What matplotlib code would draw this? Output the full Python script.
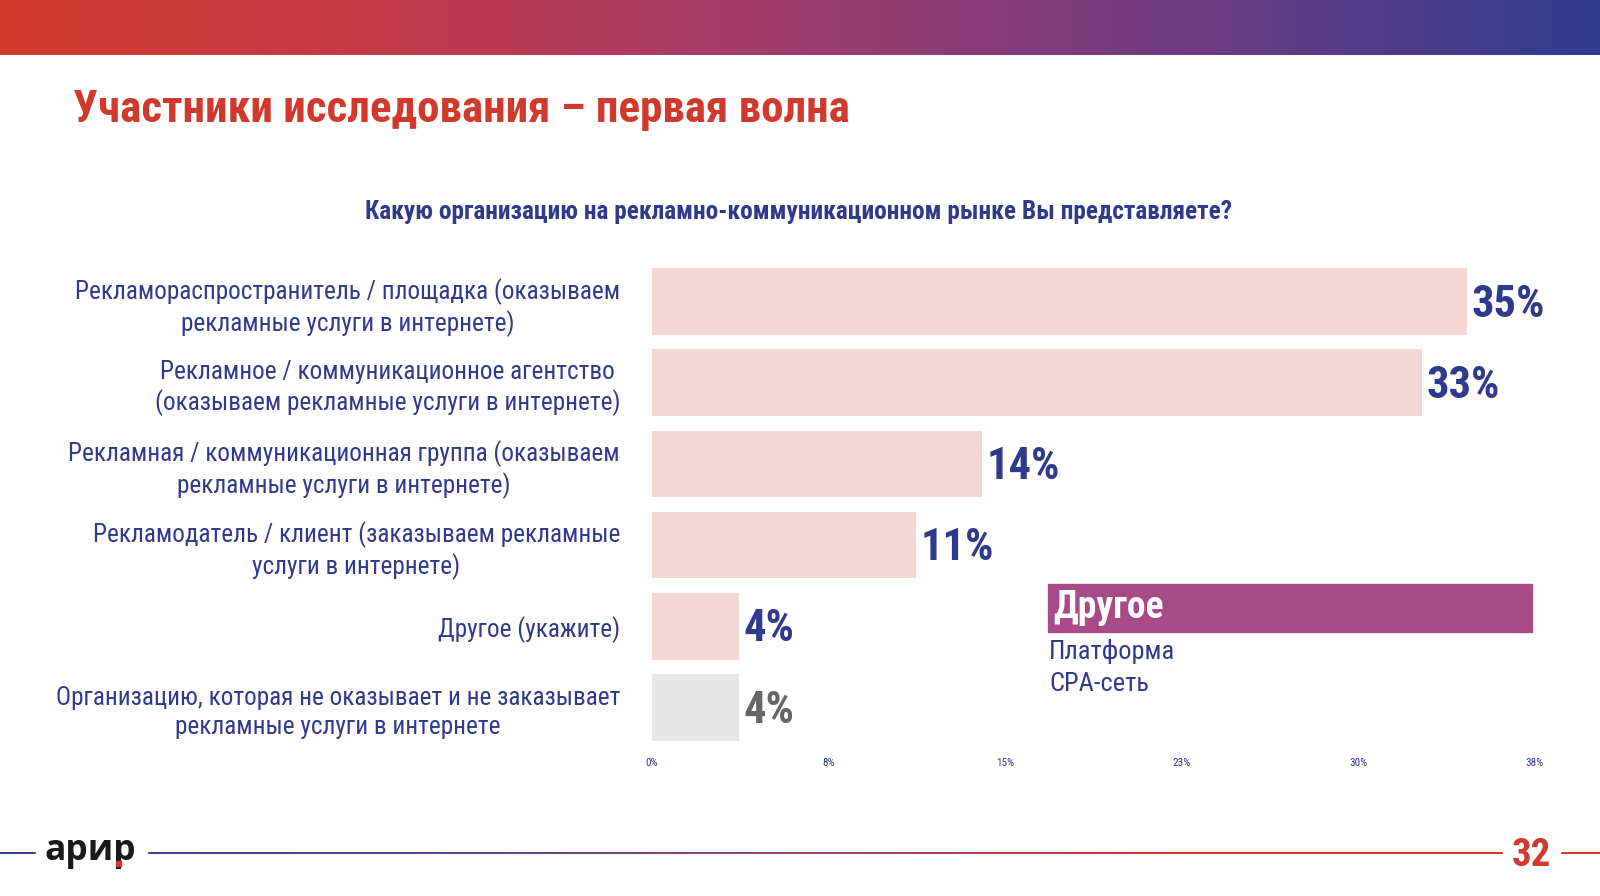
import numpy as np
import matplotlib
matplotlib.use("Agg")
import matplotlib.pyplot as plt
from matplotlib import font_manager as fm
from matplotlib.colors import LinearSegmentedColormap

# выбор узкого шрифта с кириллицей (нужны обычное и жирное начертания)
weights = {}
for f in fm.fontManager.ttflist:
    weights.setdefault(f.name, set()).add(f.weight)
cands = ['Roboto Condensed', 'Fira Sans Condensed', 'PT Sans Narrow', 'Open Sans Condensed']
COND = next((c for c in cands if {400, 700} <= weights.get(c, set())), 'PT Sans Narrow')
plt.rcParams['font.family'] = [COND, 'DejaVu Sans']

# данные
categories = [
    "Рекламораспространитель / площадка (оказываем\nрекламные услуги в интернете)",
    "Рекламное / коммуникационное агентство\n(оказываем рекламные услуги в интернете)",
    "Рекламная / коммуникационная группа (оказываем\nрекламные услуги в интернете)",
    "Рекламодатель / клиент (заказываем рекламные\nуслуги в интернете)",
    "Другое (укажите)",
    "Организацию, которая не оказывает и не заказывает\nрекламные услуги в интернете",
]
values = [34.6, 32.7, 14.0, 11.2, 3.7, 3.7]
value_labels = ["35%", "33%", "14%", "11%", "4%", "4%"]
tick_values = [0, 7.5, 15, 22.5, 30, 37.5]
tick_labels = ["0%", "8%", "15%", "23%", "30%", "38%"]
other_items = ["Платформа", "CPA-сеть"]

BLUE = '#2E3A8C'
RED = '#D0392C'
PINK = '#F4D6D5'
GREY = '#E6E6E6'
PURPLE = '#A84A88'

W, H = 1600, 896
fig = plt.figure(figsize=(16, 8.96), dpi=100)

# верхняя градиентная полоса
top = fig.add_axes([0, 1 - 55 / H, 1, 55 / H])
grad = LinearSegmentedColormap.from_list('g', ['#D03B2C', '#C23A4A', '#9E3C6E', '#6E3C82', '#2F3C90'])
top.imshow(np.linspace(0, 1, 512)[None, :], aspect='auto', cmap=grad)
top.axis('off')

# нижняя градиентная линия
bot = fig.add_axes([0, 1 - 854.5 / H, 1, 2.5 / H])
lgrad = LinearSegmentedColormap.from_list('l', ['#3A3F96', '#5A4396', '#9A4270', '#D0392C', '#D0392C'])
bot.imshow(np.linspace(0, 1, 512)[None, :], aspect='auto', cmap=lgrad)
bot.axis('off')

# основной график
ax = fig.add_axes([652 / W, 1 - 748 / H, 883 / W, 487 / H])
y = np.arange(len(values))
colors = [PINK] * 5 + [GREY]
ax.barh(y, values, height=0.82, color=colors)
ax.set_ylim(len(values) - 0.5, -0.5)
ax.set_xlim(0, 37.5)
for yi, v, lab, c in zip(y, values, value_labels, colors):
    ax.text(v + 0.2, yi + 0.04, lab, va='center', ha='left', fontsize=32, fontweight='bold',
            color='#666666' if c == GREY else BLUE)
ax.set_yticks(y, categories)
for t in ax.get_yticklabels():
    t.set_multialignment('center')
    t.set_fontsize(18.2)
    t.set_color(BLUE)
    t.set_linespacing(1.25)
ax.set_xticks(tick_values, tick_labels)
for t in ax.get_xticklabels():
    t.set_fontsize(8)
    t.set_color(BLUE)
ax.tick_params(axis='both', length=0)
ax.tick_params(axis='y', pad=23)
ax.tick_params(axis='x', pad=7)
for s in ax.spines.values():
    s.set_visible(False)

# оверлей для текста и декора
ov = fig.add_axes([0, 0, 1, 1])
ov.set_xlim(0, W)
ov.set_ylim(H, 0)
ov.axis('off')

ov.text(73, 110, "Участники исследования – первая волна", color=RED, fontsize=32.5,
        fontweight='bold', va='center', ha='left')
ov.text(799, 212, "Какую организацию на рекламно-коммуникационном рынке Вы представляете?",
        color=BLUE, fontsize=18.3, fontweight='bold', va='center', ha='center')

# блок "Другое"
ov.add_patch(plt.Rectangle((1048, 584), 484, 48, color=PURPLE))
ov.text(1053, 607, "Другое", color='white', fontsize=27, fontweight='bold', va='center', ha='left')
for i, item in enumerate(other_items):
    ov.text(1049, 651 + i * 33, item, color=BLUE, fontsize=19, va='center', ha='left')

# логотип и номер страницы
ly = 853
ov.add_patch(plt.Rectangle((36, ly - 12), 111, 24, color='white', zorder=3))
ov.add_patch(plt.Rectangle((1503, ly - 20), 57, 40, color='white', zorder=3))
ov.text(44, ly - 2, "арир", fontsize=25.5, fontweight='bold', color='#1A1A1A',
        family=['Open Sans', 'DejaVu Sans'], va='center', ha='left', zorder=4)
ov.add_patch(plt.Rectangle((116, ly + 8), 5, 5, color=RED, zorder=5))
ov.text(1531, ly + 2, "32", fontsize=28, fontweight='bold', color=RED, va='center', ha='center', zorder=4)

fig.savefig('out.png', dpi=100, facecolor='white')
